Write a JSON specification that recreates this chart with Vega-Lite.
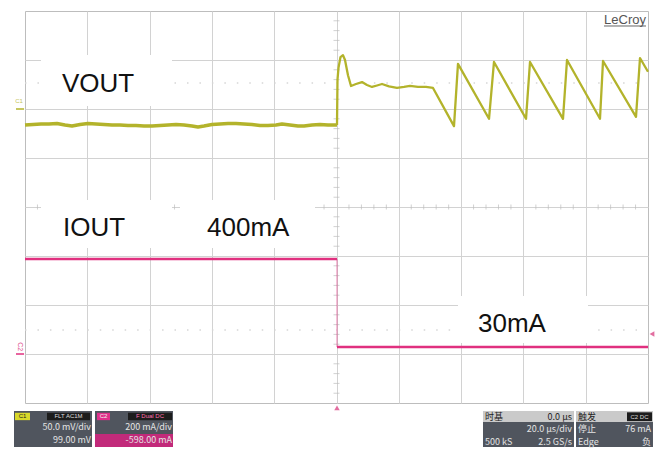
{
  "$schema": "https://vega.github.io/schema/vega-lite/v6.json",
  "width": 623,
  "height": 392,
  "autosize": {"type": "none"},
  "padding": {"left": 25, "top": 11, "right": 10, "bottom": 46},
  "background": "white",
  "config": {"view": {"stroke": "#bdbdbd", "strokeWidth": 1}, "font": "Liberation Sans"},
  "resolve": {"scale": {"color": "independent"}},
  "encoding": {
    "x": {"field": "t", "type": "quantitative", "scale": {"domain": [-100, 100], "nice": false, "zero": false},
      "axis": {"values": [-80, -60, -40, -20, 0, 20, 40, 60, 80], "grid": true, "gridColor": "#d2d2d2", "labels": false, "ticks": false, "domain": false, "title": null}},
    "y": {"field": "v", "type": "quantitative", "scale": {"domain": [-4, 4], "nice": false, "zero": false},
      "axis": {"values": [-3, -2, -1, 0, 1, 2, 3], "grid": true, "gridColor": "#d2d2d2", "labels": false, "ticks": false, "domain": false, "title": null}}
  },
  "layer": [
    {
      "data": {"values": [{"t": -100, "t2": 100, "v": 2.53}, {"t": -100, "t2": 100, "v": -2.51}]},
      "mark": {"type": "rule", "color": "#d6d6d6", "strokeWidth": 1.5, "strokeDash": [1.5, 10.96]},
      "encoding": {"x2": {"field": "t2"}}
    },
    {
      "data": {"values": [
        {"t": -96, "v": 0}, {"t": -92, "v": 0}, {"t": -88, "v": 0}, {"t": -84, "v": 0}, {"t": -76, "v": 0}, {"t": -72, "v": 0}, {"t": -68, "v": 0}, {"t": -64, "v": 0},
        {"t": -56, "v": 0}, {"t": -52, "v": 0}, {"t": -48, "v": 0}, {"t": -44, "v": 0}, {"t": -36, "v": 0}, {"t": -32, "v": 0}, {"t": -28, "v": 0}, {"t": -24, "v": 0},
        {"t": -16, "v": 0}, {"t": -12, "v": 0}, {"t": -8, "v": 0}, {"t": -4, "v": 0}, {"t": 4, "v": 0}, {"t": 8, "v": 0}, {"t": 12, "v": 0}, {"t": 16, "v": 0},
        {"t": 24, "v": 0}, {"t": 28, "v": 0}, {"t": 32, "v": 0}, {"t": 36, "v": 0}, {"t": 44, "v": 0}, {"t": 48, "v": 0}, {"t": 52, "v": 0}, {"t": 56, "v": 0},
        {"t": 64, "v": 0}, {"t": 68, "v": 0}, {"t": 72, "v": 0}, {"t": 76, "v": 0}, {"t": 84, "v": 0}, {"t": 88, "v": 0}, {"t": 92, "v": 0}, {"t": 96, "v": 0}
      ]},
      "mark": {"type": "tick", "orient": "vertical", "size": 5, "thickness": 1, "color": "#bdbdbd"}
    },
    {
      "data": {"values": [
        {"t": 0, "v": -3.8}, {"t": 0, "v": -3.6}, {"t": 0, "v": -3.4}, {"t": 0, "v": -3.2}, {"t": 0, "v": -2.8}, {"t": 0, "v": -2.6}, {"t": 0, "v": -2.4}, {"t": 0, "v": -2.2},
        {"t": 0, "v": -1.8}, {"t": 0, "v": -1.6}, {"t": 0, "v": -1.4}, {"t": 0, "v": -1.2}, {"t": 0, "v": -0.8}, {"t": 0, "v": -0.6}, {"t": 0, "v": -0.4}, {"t": 0, "v": -0.2},
        {"t": 0, "v": 0.2}, {"t": 0, "v": 0.4}, {"t": 0, "v": 0.6}, {"t": 0, "v": 0.8}, {"t": 0, "v": 1.2}, {"t": 0, "v": 1.4}, {"t": 0, "v": 1.6}, {"t": 0, "v": 1.8},
        {"t": 0, "v": 2.2}, {"t": 0, "v": 2.4}, {"t": 0, "v": 2.6}, {"t": 0, "v": 2.8}, {"t": 0, "v": 3.2}, {"t": 0, "v": 3.4}, {"t": 0, "v": 3.6}, {"t": 0, "v": 3.8}
      ]},
      "mark": {"type": "tick", "orient": "horizontal", "size": 6, "thickness": 1, "color": "#bdbdbd"}
    },
    {
      "data": {"values": [
        {"t": -94.86, "t2": -52.81, "v": 3.102, "v2": 2.061},
        {"t": -94.86, "t2": -52.81, "v": 0.143, "v2": -0.837},
        {"t": -50.24, "t2": -6.90, "v": 0.143, "v2": -0.837},
        {"t": 39.01, "t2": 80.74, "v": -1.816, "v2": -2.776}
      ]},
      "mark": {"type": "rect", "color": "white"},
      "encoding": {"x2": {"field": "t2"}, "y2": {"field": "v2"}}
    },
    {
      "data": {"values": [
        {"t": -100, "v": 1.673}, {"t": -97.43, "v": 1.684}, {"t": -94.86, "v": 1.694}, {"t": -92.30, "v": 1.694}, {"t": -89.73, "v": 1.704},
        {"t": -87.16, "v": 1.673}, {"t": -84.91, "v": 1.653}, {"t": -82.34, "v": 1.684}, {"t": -79.78, "v": 1.704}, {"t": -77.21, "v": 1.694},
        {"t": -74.64, "v": 1.684}, {"t": -72.07, "v": 1.673}, {"t": -69.50, "v": 1.673}, {"t": -66.93, "v": 1.663}, {"t": -64.37, "v": 1.663},
        {"t": -61.80, "v": 1.653}, {"t": -59.23, "v": 1.653}, {"t": -56.66, "v": 1.663}, {"t": -54.09, "v": 1.673}, {"t": -51.52, "v": 1.684},
        {"t": -48.96, "v": 1.673}, {"t": -46.39, "v": 1.653}, {"t": -44.46, "v": 1.633}, {"t": -42.54, "v": 1.653}, {"t": -39.97, "v": 1.684},
        {"t": -37.40, "v": 1.694}, {"t": -34.83, "v": 1.704}, {"t": -32.26, "v": 1.704}, {"t": -29.69, "v": 1.694}, {"t": -27.13, "v": 1.684},
        {"t": -24.56, "v": 1.663}, {"t": -21.99, "v": 1.663}, {"t": -19.42, "v": 1.673}, {"t": -17.50, "v": 1.694}, {"t": -14.93, "v": 1.673},
        {"t": -12.36, "v": 1.653}, {"t": -10.43, "v": 1.653}, {"t": -7.86, "v": 1.673}, {"t": -5.30, "v": 1.684}, {"t": -2.73, "v": 1.673},
        {"t": -0.16, "v": 1.673}, {"t": 0.16, "v": 1.673}
      ]},
      "mark": {"type": "line", "color": "#b3b32b", "strokeWidth": 3.6, "strokeJoin": "round"}
    },
    {
      "data": {"values": [
        {"t": 0.16, "v": 1.673}, {"t": 0.32, "v": 2.6}, {"t": 0.64, "v": 2.84}, {"t": 1.28, "v": 3.06},
        {"t": 2.08, "v": 3.10}, {"t": 2.73, "v": 3.0}, {"t": 3.69, "v": 2.69}, {"t": 4.66, "v": 2.47}, {"t": 6.26, "v": 2.51},
        {"t": 8.19, "v": 2.55}, {"t": 9.79, "v": 2.49}, {"t": 11.40, "v": 2.45}, {"t": 13.0, "v": 2.48}, {"t": 14.61, "v": 2.51},
        {"t": 16.86, "v": 2.46}, {"t": 19.42, "v": 2.43}, {"t": 21.67, "v": 2.45}, {"t": 23.60, "v": 2.47}, {"t": 26.16, "v": 2.45},
        {"t": 28.73, "v": 2.45}, {"t": 30.98, "v": 2.43}, {"t": 37.72, "v": 1.65}, {"t": 39.0, "v": 2.92}, {"t": 48.96, "v": 1.80},
        {"t": 50.56, "v": 2.96}, {"t": 60.84, "v": 1.80}, {"t": 62.12, "v": 2.96}, {"t": 72.71, "v": 1.80}, {"t": 74.0, "v": 3.0},
        {"t": 84.59, "v": 1.80}, {"t": 85.56, "v": 2.98}, {"t": 96.15, "v": 1.84}, {"t": 97.43, "v": 3.04}, {"t": 100, "v": 2.76}
      ]},
      "mark": {"type": "line", "color": "#b3b32b", "strokeWidth": 2.3, "strokeJoin": "round"}
    },
    {
      "data": {"values": [{"t": 0.16, "v": -1.061, "v2": -2.857}]},
      "mark": {"type": "rule", "color": "#e0307f", "strokeWidth": 1, "opacity": 0.6},
      "encoding": {"y2": {"field": "v2"}}
    },
    {
      "data": {"values": [
        {"t": -100, "v": -1.061, "seg": "a"}, {"t": 0.16, "v": -1.061, "seg": "a"},
        {"t": 0.16, "v": -2.857, "seg": "b"}, {"t": 100, "v": -2.857, "seg": "b"}
      ]},
      "mark": {"type": "line", "color": "#e0307f", "strokeWidth": 2.5},
      "encoding": {"detail": {"field": "seg"}}
    },
    {
      "data": {"values": [
        {"t": -88.12, "v": 2.347, "label": "VOUT"},
        {"t": -87.80, "v": -0.592, "label": "IOUT"},
        {"t": -41.57, "v": -0.592, "label": "400mA"},
        {"t": 45.42, "v": -2.551, "label": "30mA"}
      ]},
      "mark": {"type": "text", "align": "left", "baseline": "alphabetic", "fontSize": 26, "font": "Liberation Sans", "color": "#111111"},
      "encoding": {"text": {"field": "label"}}
    },
    {
      "data": {"values": [{"t": 99.36, "v": 3.735, "label": "LeCroy"}]},
      "mark": {"type": "text", "align": "right", "baseline": "alphabetic", "fontSize": 13, "font": "Liberation Sans", "color": "#555555"},
      "encoding": {"text": {"field": "label"}}
    },
    {
      "data": {"values": [{"t": 85.87, "t2": 99.36, "v": 3.694}]},
      "mark": {"type": "rule", "strokeWidth": 1, "color": "#666666"},
      "encoding": {"x2": {"field": "t2"}}
    },
    {
      "data": {"values": [{"t": -102.9, "t2": -100.3, "v": 2.0}]},
      "mark": {"type": "rule", "strokeWidth": 1.5, "color": "#b3b32b"},
      "encoding": {"x2": {"field": "t2"}}
    },
    {
      "data": {"values": [{"t": -102.9, "t2": -100.3, "v": -3.0}]},
      "mark": {"type": "rule", "strokeWidth": 1.5, "color": "#e0307f"},
      "encoding": {"x2": {"field": "t2"}}
    },
    {
      "data": {"values": [{"t": -101.9, "v": 2.12, "label": "C1"}]},
      "mark": {"type": "text", "align": "center", "baseline": "alphabetic", "fontSize": 6, "color": "#c4c45a"},
      "encoding": {"text": {"field": "label"}}
    },
    {
      "data": {"values": [{"t": -101.6, "v": -2.85, "label": "C2"}]},
      "mark": {"type": "text", "align": "center", "baseline": "middle", "fontSize": 7, "angle": 90, "color": "#e0508f"},
      "encoding": {"text": {"field": "label"}}
    },
    {
      "data": {"values": [{"t": 101.28, "v": -2.59}]},
      "mark": {"type": "point", "shape": "triangle-left", "filled": true, "size": 30, "color": "#d63078", "clip": false}
    },
    {
      "data": {"values": [{"t": 0.16, "v": -4.10}]},
      "mark": {"type": "point", "shape": "triangle-up", "filled": true, "size": 30, "color": "#d63078", "clip": false}
    },
    {
      "data": {"values": [
        {"t": -103.53, "t2": -78.49, "v": -4.163, "v2": -4.898, "kind": "dark"},
        {"t": -103.21, "t2": -98.39, "v": -4.20, "v2": -4.35, "kind": "c1tag"},
        {"t": -92.94, "t2": -79.13, "v": -4.20, "v2": -4.35, "kind": "blk"},
        {"t": -77.53, "t2": -52.49, "v": -4.163, "v2": -4.898, "kind": "dark"},
        {"t": -77.53, "t2": -52.49, "v": -4.633, "v2": -4.898, "kind": "pinkrow"},
        {"t": -76.89, "t2": -72.71, "v": -4.20, "v2": -4.35, "kind": "c2tag"},
        {"t": -66.93, "t2": -52.81, "v": -4.20, "v2": -4.35, "kind": "blk"},
        {"t": 47.03, "t2": 76.24, "v": -4.163, "v2": -4.898, "kind": "dark"},
        {"t": 47.03, "t2": 76.24, "v": -4.163, "v2": -4.388, "kind": "light"},
        {"t": 76.89, "t2": 101.6, "v": -4.163, "v2": -4.898, "kind": "dark"},
        {"t": 76.89, "t2": 101.6, "v": -4.163, "v2": -4.388, "kind": "light"},
        {"t": 93.26, "t2": 101.28, "v": -4.19, "v2": -4.37, "kind": "blk"}
      ]},
      "mark": {"type": "rect"},
      "encoding": {"x2": {"field": "t2"}, "y2": {"field": "v2"},
        "color": {"field": "kind", "type": "nominal", "scale": {"domain": ["dark", "c1tag", "blk", "pinkrow", "c2tag", "light"], "range": ["#50555e", "#d8d82a", "#1c1c1c", "#c22a7a", "#e0308a", "#cacaca"]}, "legend": null}}
    },
    {
      "data": {"values": [
        {"t": -78.81, "v": -4.551, "label": "50.0 mV/div", "kind": "tl"},
        {"t": -78.81, "v": -4.816, "label": "99.00 mV", "kind": "tl"},
        {"t": -52.81, "v": -4.551, "label": "200 mA/div", "kind": "tl"},
        {"t": -52.81, "v": -4.816, "label": "-598.00 mA", "kind": "tl"},
        {"t": 75.60, "v": -4.347, "label": "0.0 µs", "kind": "td"},
        {"t": 75.60, "v": -4.592, "label": "20.0 µs/div", "kind": "tl"},
        {"t": 75.60, "v": -4.857, "label": "2.5 GS/s", "kind": "tl"},
        {"t": 100.96, "v": -4.592, "label": "76 mA", "kind": "tl"},
        {"t": 100.96, "v": -4.857, "label": "负", "kind": "tl"}
      ]},
      "mark": {"type": "text", "align": "right", "baseline": "alphabetic", "fontSize": 9, "font": "Noto Sans CJK SC"},
      "encoding": {"text": {"field": "label"},
        "color": {"field": "kind", "type": "nominal", "scale": {"domain": ["tl", "td"], "range": ["#e4e4e4", "#222222"]}, "legend": null}}
    },
    {
      "data": {"values": [
        {"t": 47.67, "v": -4.347, "label": "时基", "kind": "td"},
        {"t": 47.67, "v": -4.857, "label": "500 kS", "kind": "tl"},
        {"t": 77.53, "v": -4.347, "label": "触发", "kind": "td"},
        {"t": 77.53, "v": -4.592, "label": "停止", "kind": "tl"},
        {"t": 77.53, "v": -4.857, "label": "Edge", "kind": "tl"}
      ]},
      "mark": {"type": "text", "align": "left", "baseline": "alphabetic", "fontSize": 9, "font": "Noto Sans CJK SC"},
      "encoding": {"text": {"field": "label"},
        "color": {"field": "kind", "type": "nominal", "scale": {"domain": ["tl", "td"], "range": ["#e4e4e4", "#222222"]}, "legend": null}}
    },
    {
      "data": {"values": [
        {"t": -100.8, "v": -4.275, "label": "C1", "kind": "td"},
        {"t": -86.03, "v": -4.275, "label": "FLT AC1M", "kind": "tc"},
        {"t": -74.8, "v": -4.275, "label": "C2", "kind": "tl"},
        {"t": -59.87, "v": -4.275, "label": "F Dual DC", "kind": "tp"},
        {"t": 97.27, "v": -4.28, "label": "C2 DC", "kind": "tc"}
      ]},
      "mark": {"type": "text", "align": "center", "baseline": "middle", "fontSize": 6, "font": "Liberation Sans"},
      "encoding": {"text": {"field": "label"},
        "color": {"field": "kind", "type": "nominal", "scale": {"domain": ["td", "tc", "tl", "tp"], "range": ["#222222", "#dddddd", "#f0f0f0", "#ff6fb0"]}, "legend": null}}
    }
  ]
}
